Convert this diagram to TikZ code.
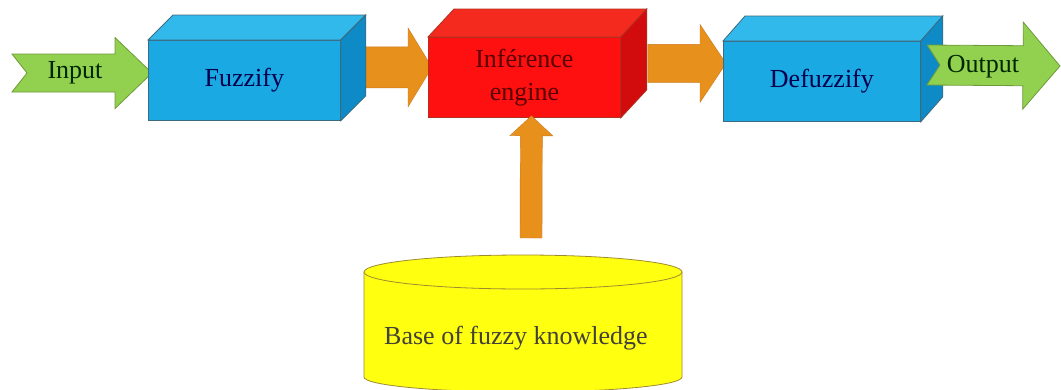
\documentclass[tikz,border=0pt]{standalone}
\usepackage{fontspec}
\setmainfont{Liberation Serif}
\usetikzlibrary{calc,backgrounds}

\definecolor{bluefront}{HTML}{1AA9E3}
\definecolor{bluetop}{HTML}{31B9EC}
\definecolor{blueside}{HTML}{0E8BC6}
\definecolor{blueline}{HTML}{3D6A80}
\definecolor{redfront}{HTML}{FF1010}
\definecolor{redtop}{HTML}{F42A1E}
\definecolor{redside}{HTML}{D20C0C}
\definecolor{redline}{HTML}{B03020}
\definecolor{greenfill}{HTML}{92D050}
\definecolor{greenline}{HTML}{6F9A3A}
\definecolor{orangefill}{HTML}{E8901C}
\definecolor{orangeline}{HTML}{C97A20}
\definecolor{yellowfill}{HTML}{FFFF10}
\definecolor{yellowline}{HTML}{A08A30}

% top and side faces of a box whose front face is a node
\newcommand{\boxfaces}[5]{%
  \filldraw[fill=#4] (#1.north west) -- ++(#2,-#3) -- ($(#1.north east)+(#2,-#3)$) -- (#1.north east) -- cycle;
  \filldraw[fill=#5] (#1.north east) -- ++(#2,-#3) -- ($(#1.south east)+(#2,-#3)$) -- (#1.south east) -- cycle;}

% block arrow: style, from, to, body half, head half, head length, notch
\newcommand{\fatarrow}[7]{%
  \coordinate (fa-h) at ($(#3)!#6!(#2)$);
  \coordinate (fa-n) at ($(#2)!#7!(#3)$);
  \filldraw[#1] ($(#2)!#4!90:(#3)$) -- ($(fa-h)!#4!90:(#3)$) -- ($(fa-h)!#5!90:(#3)$) -- (#3)
    -- ($(fa-h)!#5!-90:(#3)$) -- ($(fa-h)!#4!-90:(#3)$) -- ($(#2)!#4!-90:(#3)$) -- (fa-n) -- cycle;}

\begin{document}
\begin{tikzpicture}[x=1pt,y=-1pt,
  font=\fontsize{26}{33}\selectfont,
  frontdecorate/.style={draw,line width=0.8pt,inner sep=0pt,anchor=north west,
    minimum width=#1,minimum height=80pt,align=center},
  bluedecorate/.style={draw=blueline,line width=0.8pt},
  reddecorate/.style={draw=redline,line width=0.8pt},
  greenarrow/.style={fill=greenfill,draw=greenline,line width=0.8pt},
  orangearrow/.style={fill=orangefill,draw=orangeline,line width=0.4pt}]
\useasboundingbox (0,0) rectangle (1061,389);
% boxes
\node (fuzzify) at (148,40) [frontdecorate=192pt,fill=bluefront,draw=blueline,text=blue!30!black] {Fuzzify};
\begin{scope}[bluedecorate]\boxfaces{fuzzify}{25}{25}{bluetop}{blueside}\end{scope}
\node (infer) at (428,37) [frontdecorate=192pt,fill=redfront,draw=redline,text=red!35!black] {Inférence\\engine};
\begin{scope}[reddecorate]\boxfaces{infer}{26}{28}{redtop}{redside}\end{scope}
\node (defuzz) at (723,41) [frontdecorate=197pt,fill=bluefront,draw=blueline,text=blue!30!black] {\raisebox{-4pt}{Defuzzify}};
\begin{scope}[bluedecorate]\boxfaces{defuzz}{22}{25}{bluetop}{blueside}\end{scope}
% knowledge base
\filldraw[fill=yellowfill,draw=yellowline,line width=0.8pt]
  (364,272) -- (364,377) arc (180:0:159 and 15) -- (682,272) -- cycle;
\filldraw[fill=yellowfill,draw=yellowline,line width=0.8pt] (523,272) ellipse (159 and 17);
\node (kb) at (516,338) [text=black!85!yellow] {Base of fuzzy knowledge};
% arrows
\coordinate (intail) at (12,73);
\coordinate (intip) at (152,73);
\coordinate (outtail) at (927,65);
\coordinate (outtip) at (1060,66);
\coordinate (kbtop) at (531,238);
\begin{scope}[on background layer]
\fatarrow{greenarrow}{intail}{intip}{19pt}{35.5pt}{37pt}{15pt}
\fatarrow{orangearrow}{$(fuzzify.east)+(25,-13)$}{$(infer.west)+(4,-10)$}{20.5pt}{39.5pt}{24pt}{0pt}
\fatarrow{orangearrow}{$(infer.east)+(27,-14)$}{$(defuzz.west)+(3,-18)$}{19pt}{39pt}{26pt}{0pt}
\end{scope}
\fatarrow{orangearrow}{kbtop}{$(infer.south)+(7,-2)$}{11pt}{21.5pt}{20pt}{0pt}
\fatarrow{greenarrow}{outtail}{outtip}{20pt}{43.5pt}{37pt}{13pt}
\node (input) at (75,73) [text=green!15!black] {Input};
\node (output) at (983,67) [text=green!15!black] {Output};
\end{tikzpicture}
\end{document}
